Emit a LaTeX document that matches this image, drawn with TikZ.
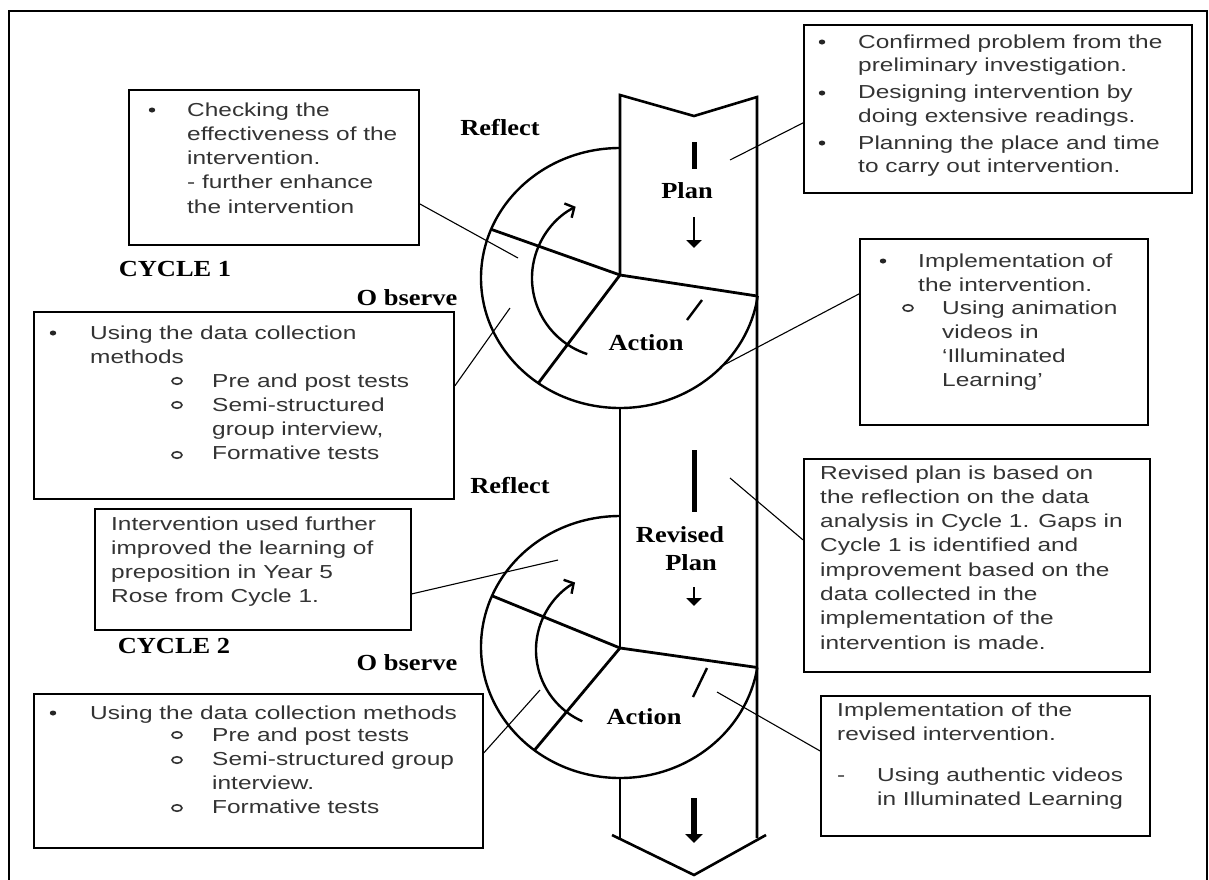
\documentclass[tikz,border=0pt]{standalone}
\usepackage{fontspec}
\newfontfamily\boxfont[FakeStretch=1.3]{Liberation Sans}
\newfontfamily\lblfont[FakeStretch=1.15]{Liberation Serif}
\usetikzlibrary{arrows.meta,calc,shapes.geometric}
\newcommand\txtlines[1]{\begin{tabular}[t]{@{}l@{}}#1\end{tabular}}
\tikzset{
  band/.style={line width=2.6pt, line join=miter},
  ring/.style={line width=2.4pt},
  spoke/.style={line width=2.8pt},
  bx/.style={draw, line width=1.8pt, inner sep=0pt, anchor=north west},
  lead/.style={line width=1.1pt},
  txt/.style={font=\boxfont\fontsize{18.8}{24.3}\selectfont, text=black!80, anchor=base west, inner sep=0pt},
  bul/.style={ellipse, fill=black!85, inner sep=0pt, minimum width=6.5pt, minimum height=5pt},
  subbul/.style={ellipse, draw=black!80, line width=1.6pt, inner sep=0pt, minimum width=10pt, minimum height=6.5pt},
  lbl/.style={font=\lblfont\bfseries\fontsize{23}{27}\selectfont, inner sep=0pt},
  downarrow/.style={line width=2.8pt, -{Triangle[length=8pt,width=15pt]}},
}
\begin{document}
\begin{tikzpicture}[x=1pt, y=-1pt]
\useasboundingbox (0,0) rectangle (1209,879);
% outer frame
\draw[line width=2pt] (9,890) -- (9,11) -- (1207,11) -- (1207,890);

% band (arrow)
\draw[band] (620,275) -- (620,95) -- (694,116) -- (757,97) -- (757,838);
\draw[band] (620,408) -- (620,648);
\draw[band] (620,778) -- (620,838);
\draw[band] (612,835) -- (694,875) -- (766,835);

% cycle 1
\coordinate (c1) at (620,278);
\coordinate (h1) at (620,275);
\draw[ring] (620,148) arc[start angle=270, end angle=8, x radius=139, y radius=130] coordinate (r1);
\draw[spoke] ($(c1)+(202:139 and 130)$) -- (h1) -- (r1);
\draw[spoke] (h1) -- ($(c1)+(126:139 and 130)$);
\draw[ring, -{Straight Barb[length=7pt,width=16pt]}] ($(612,278)+(108:80)$) arc[start angle=108, end angle=243, radius=80];
\draw[ring] (687,320) -- (702,300);

% cycle 2
\coordinate (c2) at (620,647);
\coordinate (h2) at (620,648);
\draw[ring] (620,516) arc[start angle=270, end angle=9, x radius=139, y radius=131] coordinate (r2);
\draw[spoke] ($(c2)+(203:139 and 131)$) -- (h2) -- (r2);
\draw[spoke] (h2) -- ($(c2)+(128:139 and 131)$);
\draw[ring, -{Straight Barb[length=7pt,width=16pt]}] ($(614,650)+(114:78)$) arc[start angle=114, end angle=240, radius=78];
\draw[ring] (693,697) -- (707,668);

% band marks
\draw[line width=5pt] (694,142) -- (694,169);
\draw[downarrow] (694,217) -- (694,248);
\draw[line width=5pt] (694,450) -- (694,512);
\draw[downarrow] (694,587) -- (694,606);
\draw[line width=5.5pt, -{Triangle[length=9pt,width=17pt]}] (694,798) -- (694,843);

% labels
\node[lbl] (refl1) at (500,128) {Reflect};
\node[lbl] (plan1) at (687,191) {Plan};
\node[lbl] (act1l) at (646,343) {Action};
\node[lbl] (obs1) at (407,298) {O bserve};
\node[lbl] (cyc1) at (175,269) {CYCLE 1};
\node[lbl] (refl2) at (510,486) {Reflect};
\node[lbl] (rev2) at (680,535) {Revised};
\node[lbl] (plan2) at (691,563) {Plan};
\node[lbl] (act2l) at (644,717) {Action};
\node[lbl] (obs2) at (407,663) {O bserve};
\node[lbl] (cyc2) at (174,646) {CYCLE 2};

% boxes
\node[bx, minimum width=290pt, minimum height=155pt] (chk) at (128,89) {};
\node[bx, minimum width=388pt, minimum height=168pt] (planbox) at (803,24) {};
\node[bx, minimum width=288pt, minimum height=186pt] (act1) at (859,238) {};
\node[bx, minimum width=420pt, minimum height=187pt] (data1) at (33,311) {};
\node[bx, minimum width=316pt, minimum height=121pt] (impr) at (94,508) {};
\node[bx, minimum width=346pt, minimum height=213pt] (rev) at (803,458) {};
\node[bx, minimum width=329pt, minimum height=140pt] (act2) at (820,695) {};
\node[bx, minimum width=449pt, minimum height=154pt] (data2) at (33,693) {};

% box texts
\node[bul] (chkb) at (152,110) {};
\node[txt] (chkt) at (187,116) {\txtlines{Checking the\\effectiveness of the\\intervention.\\- further enhance\\the intervention}};

\node[bul] (plb1) at (822,42) {};
\node[bul] (plb2) at (822,93) {};
\node[bul] (plb3) at (822,143) {};
\node[txt, font=\boxfont\fontsize{18.8}{23.5}\selectfont] (plt) at (858,48) {\txtlines{Confirmed problem from the\\preliminary investigation.\\[3.5pt]Designing intervention by\\doing extensive readings.\\[3.5pt]Planning the place and time\\to carry out intervention.}};

\node[bul] (a1b) at (883,261) {};
\node[txt] (a1t) at (918,267) {\txtlines{Implementation of\\the intervention.}};
\node[subbul] (a1o) at (908,308) {};
\node[txt] (a1s) at (942,314) {\txtlines{Using animation\\videos in\\‘Illuminated\\Learning’}};

\node[bul] (d1b) at (53,333) {};
\node[txt] (d1t) at (90,339) {\txtlines{Using the data collection\\methods}};
\node[subbul] (d1o1) at (177,381) {};
\node[subbul] (d1o2) at (177,405) {};
\node[subbul] (d1o3) at (177,455) {};
\node[txt] (d1s) at (212,387) {\txtlines{Pre and post tests\\Semi-structured\\group interview,\\Formative tests}};

\node[txt] (imt) at (111,530) {\txtlines{Intervention used further\\improved the learning of\\preposition in Year 5\\Rose from Cycle 1.}};

\node[txt] (rvt) at (820,479) {\txtlines{Revised plan is based on\\the reflection on the data\\analysis in Cycle 1. Gaps in\\Cycle 1 is identified and\\improvement based on the\\data collected in the\\implementation of the\\intervention is made.}};

\node[txt] (a2t) at (837,716) {\txtlines{Implementation of the\\revised intervention.}};
\node[txt] (a2d) at (837,781) {-};
\node[txt] (a2s) at (877,781) {\txtlines{Using authentic videos\\in Illuminated Learning}};

\node[bul] (d2b) at (53,713) {};
\node[txt] (d2t) at (90,719) {Using the data collection methods};
\node[subbul] (d2o1) at (177,735) {};
\node[subbul] (d2o2) at (177,760) {};
\node[subbul] (d2o3) at (177,808) {};
\node[txt] (d2s) at (212,741) {\txtlines{Pre and post tests\\Semi-structured group\\interview.\\Formative tests}};

% connectors
\coordinate (e1) at (518,258);
\coordinate (e2) at (730,160);
\coordinate (e3) at (510,308);
\coordinate (e4) at (720,367);
\coordinate (e5) at (558,560);
\coordinate (e6) at (730,478);
\coordinate (e7) at (717,692);
\coordinate (e8) at (540,690);
\draw[lead] ([yshift=-36.5pt]chk.east) -- (e1);
\draw[lead] (e2) -- ([yshift=-14pt]planbox.west);
\draw[lead] ([yshift=19.5pt]data1.east) -- (e3);
\draw[lead] (e4) -- ([yshift=38pt]act1.west);
\draw[lead] ([yshift=-24.5pt]impr.east) -- (e5);
\draw[lead] (e6) -- ([yshift=25.5pt]rev.west);
\draw[lead] (e7) -- ([yshift=15pt]act2.west);
\draw[lead] ([yshift=18pt]data2.east) -- (e8);
\end{tikzpicture}
\end{document}
